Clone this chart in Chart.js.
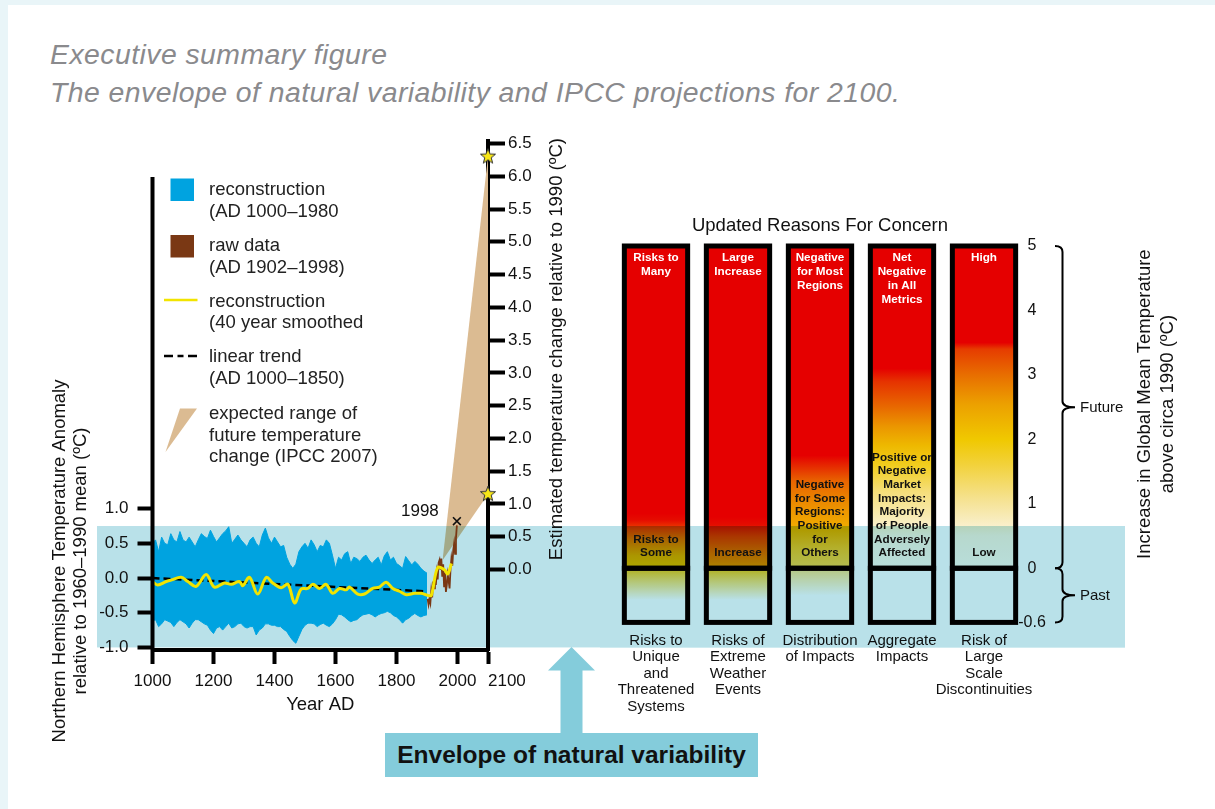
<!DOCTYPE html>
<html>
<head>
<meta charset="utf-8">
<title>The envelope of natural variability and IPCC projections for 2100</title>
<script src="https://cdn.jsdelivr.net/npm/chart.js@4.4.1/dist/chart.umd.min.js"></script>
<style>
  html, body { margin: 0; padding: 0; }
  body { width: 1215px; height: 809px; position: relative; overflow: hidden; background: #e9f5f8;
         font-family: "Liberation Sans", Arial, Helvetica, sans-serif; }
  #panel { position: absolute; left: 8px; top: 5px; right: 0; bottom: 0; background: #fff; }
  .heading { position: absolute; left: 50px; color: #8a8a8d; font-style: italic; font-size: 28.4px;
             line-height: 28px; white-space: nowrap; letter-spacing: 0.45px; }
  canvas { position: absolute; left: 0; top: 0; }
  #arrow { position: absolute; left: 0; top: 0; }
  #envelope { position: absolute; left: 385px; top: 733px; width: 373px; height: 44px; background: #84ccdb;
              color: #111; font-weight: bold; font-size: 24.5px; display: flex; align-items: center;
              justify-content: center; white-space: nowrap; }
</style>
</head>
<body>
<div id="panel"></div>
<div class="heading" style="top:39.5px">Executive summary figure</div>
<div class="heading" style="top:77.5px">The envelope of natural variability and IPCC projections for 2100.</div>
<canvas id="history" width="1215" height="809"></canvas>
<canvas id="concern" width="1215" height="809"></canvas>
<svg id="arrow" width="1215" height="809">
  <polygon points="571.5,647 595,670.5 582.5,670.5 582.5,733 560.5,733 560.5,670.5 548,670.5" fill="#84ccdb"/>
</svg>
<div id="envelope">Envelope of natural variability</div>

<script>
// ---------------- Northern Hemisphere temperature record ----------------
const RECON_YEARS = [1000,1010,1020,1030,1040,1050,1060,1070,1080,1090,1100,1110,1120,1130,1140,1150,1160,1170,1180,1190,
  1200,1210,1220,1230,1240,1250,1260,1270,1280,1290,1300,1310,1320,1330,1340,1350,1360,1370,1380,1390,
  1400,1410,1420,1430,1440,1450,1460,1470,1480,1490,1500,1510,1520,1530,1540,1550,1560,1570,1580,1590,
  1600,1610,1620,1630,1640,1650,1660,1670,1680,1690,1700,1710,1720,1730,1740,1750,1760,1770,1780,1790,
  1800,1810,1820,1830,1840,1850,1860,1870,1880,1890,1900];
// upper and lower extent of the annual reconstruction within each decade
const RECON_HIGH = [0.50,0.55,0.38,0.59,0.50,0.48,0.64,0.55,0.52,0.67,0.55,0.52,0.59,0.52,0.45,0.55,0.64,0.60,0.57,0.69,
  0.60,0.52,0.58,0.64,0.68,0.74,0.50,0.56,0.62,0.55,0.50,0.45,0.55,0.59,0.50,0.45,0.62,0.72,0.58,0.50,
  0.59,0.52,0.45,0.47,0.30,0.20,0.14,0.20,0.38,0.45,0.50,0.43,0.55,0.48,0.38,0.47,0.45,0.55,0.50,0.33,
  0.14,0.30,0.26,0.35,0.38,0.21,0.30,0.28,0.24,0.30,0.33,0.26,0.21,0.26,0.30,0.19,0.32,0.38,0.26,0.30,
  0.21,0.18,0.14,0.31,0.25,0.19,0.24,0.20,0.14,0.10,0.07];
const RECON_LOW = [-0.62,-0.60,-0.70,-0.66,-0.60,-0.62,-0.64,-0.70,-0.64,-0.60,-0.63,-0.66,-0.72,-0.65,-0.60,-0.60,-0.63,-0.66,-0.68,-0.75,
  -0.80,-0.72,-0.70,-0.75,-0.70,-0.65,-0.72,-0.70,-0.66,-0.65,-0.70,-0.72,-0.70,-0.70,-0.82,-0.75,-0.72,-0.66,-0.66,-0.68,
  -0.68,-0.70,-0.70,-0.74,-0.77,-0.84,-0.90,-0.94,-0.84,-0.74,-0.68,-0.65,-0.65,-0.66,-0.70,-0.67,-0.65,-0.68,-0.70,-0.66,
  -0.60,-0.52,-0.53,-0.56,-0.60,-0.63,-0.61,-0.60,-0.56,-0.53,-0.52,-0.51,-0.53,-0.56,-0.53,-0.51,-0.50,-0.48,-0.50,-0.54,
  -0.56,-0.60,-0.65,-0.60,-0.58,-0.54,-0.51,-0.54,-0.56,-0.54,-0.53];

const SMOOTH_YEARS = [1000,1017,1045,1061,1094,1116,1143,1176,1203,1236,1258,1285,1296,1318,1345,1373,1394,1422,1444,1466,
  1487,1509,1526,1548,1569,1591,1613,1635,1646,1673,1695,1722,1744,1766,1788,1810,1832,1859,1881,1903,
  1914,1935,1957,1968,1980];
const SMOOTH_VALUES = [-0.05,-0.10,-0.05,-0.03,0.01,-0.05,-0.12,0.05,-0.13,-0.07,-0.09,-0.05,-0.11,0.01,-0.23,0.01,-0.07,-0.14,-0.09,-0.36,
  -0.16,-0.15,-0.09,-0.15,-0.09,-0.22,-0.15,-0.17,-0.13,-0.23,-0.23,-0.15,-0.13,-0.06,-0.15,-0.19,-0.24,-0.22,-0.22,-0.25,
  -0.25,0.15,0.12,0.06,0.21];

const RAW_YEARS = [1902,1905,1908,1911,1914,1917,1920,1923,1926,1929,1932,1935,1938,1941,1944,1947,1950,1953,1956,1959,
  1962,1965,1968,1971,1974,1977,1980,1983,1986,1989,1992,1995,1998];
const RAW_VALUES = [-0.30,-0.38,-0.30,-0.36,-0.18,-0.28,-0.05,-0.15,0.02,-0.10,0.08,-0.02,0.22,0.26,0.12,0.28,0.02,0.20,-0.12,0.08,
  -0.20,-0.10,0.05,-0.04,-0.15,0.12,0.28,0.18,0.40,0.50,0.35,0.58,0.76];

const TREND_YEARS = [1000, 1890];
const TREND_VALUES = [0.0, -0.19];

const PEAK_YEAR = 1998;
const PEAK_VALUE = 0.82;

// IPCC 2007 projected range (right-hand axis, relative to 1990)
const FAN_ORIGIN_YEAR = 1951;
const FAN_ORIGIN_VALUE = 0.14;
const PROJECTION_YEAR = 2100;
const PROJECTION_LOW = 1.15;
const PROJECTION_HIGH = 6.3;

// envelope of natural variability (NH anomaly, °C)
const ENVELOPE = [-1.0, 0.75];

const ANOMALY_TICKS = [-1.0, -0.5, 0.0, 0.5, 1.0];
const CHANGE_TICKS = [0.0,0.5,1.0,1.5,2.0,2.5,3.0,3.5,4.0,4.5,5.0,5.5,6.0,6.5];
const YEAR_TICKS = [1000, 1200, 1400, 1600, 1800, 2000, 2100];

// ---------------- Reasons for concern ----------------
const CONCERNS = [
  ["Risks to", "Unique", "and", "Threatened", "Systems"],
  ["Risks of", "Extreme", "Weather", "Events"],
  ["Distribution", "of Impacts"],
  ["Aggregate", "Impacts"],
  ["Risk of", "Large", "Scale", "Discontinuities"]
];
const FUTURE_SPAN = [[0, 5], [0, 5], [0, 5], [0, 5], [0, 5]];
const PAST_SPAN = [[-0.6, 0], [-0.6, 0], [-0.6, 0], [-0.6, 0], [-0.6, 0]];
const HIGH_RISK_TEXT = [
  ["Risks to", "Many"],
  ["Large", "Increase"],
  ["Negative", "for Most", "Regions"],
  ["Net", "Negative", "in All", "Metrics"],
  ["High"]
];
const LOW_RISK_TEXT = [
  ["Risks to", "Some"],
  ["Increase"],
  ["Negative", "for Some", "Regions:", "Positive", "for", "Others"],
  ["Positive or", "Negative", "Market", "Impacts:", "Majority", "of People", "Adversely", "Affected"],
  ["Low"]
];
const CONCERN_TICKS = [-0.6, 0, 1, 2, 3, 4, 5];

// ---------------- styling ----------------
const FONT = '"Liberation Sans", Arial, Helvetica, sans-serif';
const INK = '#111';
const BAND = '#b9e1e9';
const BLUE = '#00a3e0';
const BROWN = '#7a3814';
const YELLOW = '#f2e400';
const TAN = 'rgb(219,187,146)';
const TAN_IN_BAND = 'rgb(163,170,137)';
const BAND_X = [97, 1125];
const PAST_STRETCH = 1.4;   // the past segment of the concern axis is drawn taller

// colour ramps along each bar (°C, colour)
const RED = 'rgb(229,0,0)';
const FUTURE_RAMPS = [
  [[0, 'rgb(240,190,0)'], [0.2, 'rgb(236,170,0)'], [0.45, 'rgb(234,112,0)'], [0.62, 'rgb(236,60,0)'], [0.75, 'rgb(229,12,0)'], [0.85, RED], [5, RED]],
  [[0, 'rgb(240,150,0)'], [0.25, 'rgb(236,110,0)'], [0.5, 'rgb(234,60,0)'], [0.68, 'rgb(229,12,0)'], [0.8, RED], [5, RED]],
  [[0, 'rgb(250,215,90)'], [0.3, 'rgb(248,200,50)'], [0.6, 'rgb(241,175,0)'], [1.0, 'rgb(235,140,0)'], [1.35, 'rgb(232,100,0)'], [1.55, 'rgb(230,50,0)'], [1.75, RED], [5, RED]],
  [[0, 'rgb(255,252,240)'], [0.5, 'rgb(252,245,225)'], [0.8, 'rgb(248,235,180)'], [1.2, 'rgb(245,222,120)'], [1.6, 'rgb(241,205,30)'], [1.9, 'rgb(238,185,0)'], [2.2, 'rgb(235,150,0)'], [2.5, 'rgb(232,105,0)'], [2.9, 'rgb(230,50,0)'], [3.1, RED], [5, RED]],
  [[0, 'rgb(255,252,240)'], [0.5, 'rgb(252,245,225)'], [0.75, 'rgb(248,236,190)'], [1.1, 'rgb(245,225,140)'], [1.6, 'rgb(242,210,60)'], [2.0, 'rgb(240,200,0)'], [2.55, 'rgb(236,160,0)'], [3.0, 'rgb(232,110,0)'], [3.4, 'rgb(230,60,0)'], [3.5, RED], [5, RED]]
];
const PAST_RAMPS = [
  [[0, 'rgb(245,200,30)'], [-0.15, 'rgb(248,225,130)'], [-0.35, '#fff'], [-0.6, '#fff']],
  [[0, 'rgb(245,200,30)'], [-0.15, 'rgb(248,225,130)'], [-0.35, '#fff'], [-0.6, '#fff']],
  [[0, 'rgb(250,225,140)'], [-0.3, '#fff'], [-0.6, '#fff']],
  [[0, '#fff'], [-0.6, '#fff']],
  [[0, '#fff'], [-0.6, '#fff']]
];

Chart.defaults.font.family = FONT;
Chart.defaults.color = INK;

const bandPx = { top: 0, bottom: 0 };

function makeStar(r) {
  const c = document.createElement('canvas');
  c.width = c.height = 2 * r + 4;
  const g = c.getContext('2d');
  g.beginPath();
  for (let i = 0; i < 10; i++) {
    const a = -Math.PI / 2 + i * Math.PI / 5;
    const rad = i % 2 ? r * 0.42 : r;
    const px = r + 2 + rad * Math.cos(a), py = r + 2 + rad * Math.sin(a);
    i ? g.lineTo(px, py) : g.moveTo(px, py);
  }
  g.closePath();
  g.fillStyle = '#f7e617';
  g.fill();
  g.lineWidth = 1;
  g.strokeStyle = '#333';
  g.stroke();
  return c;
}

function drawText(ctx, str, x, y, o = {}) {
  ctx.save();
  ctx.font = (o.weight || 'normal') + ' ' + (o.size || 17) + 'px ' + FONT;
  ctx.fillStyle = o.color || INK;
  ctx.textAlign = o.align || 'left';
  ctx.textBaseline = 'middle';
  ctx.translate(x, y);
  if (o.rot) ctx.rotate(o.rot);
  ctx.fillText(str, 0, 0);
  ctx.restore();
}

const pts = (xs, ys) => xs.map((x, i) => ({ x, y: ys[i] }));

// ---------------- left chart: temperature history and projection fan ----------------
const historyDecor = {
  id: 'historyDecor',
  beforeDraw(chart) {
    const { ctx } = chart;
    const y = chart.scales.y;
    bandPx.top = y.getPixelForValue(ENVELOPE[1]);
    bandPx.bottom = y.getPixelForValue(ENVELOPE[0]);
    ctx.save();
    ctx.fillStyle = BAND;
    ctx.fillRect(BAND_X[0], bandPx.top, BAND_X[1] - BAND_X[0], bandPx.bottom - bandPx.top);
    ctx.restore();
  },
  afterDraw(chart) {
    const { ctx, chartArea: a } = chart;
    const x = chart.scales.x, y = chart.scales.y;

    // left axis spine (stops short of the top of the plot)
    ctx.save();
    ctx.strokeStyle = '#000';
    ctx.lineWidth = 4;
    ctx.beginPath();
    ctx.moveTo(a.left, a.bottom + 2);
    ctx.lineTo(a.left, y.getPixelForValue(5.78));
    ctx.stroke();
    ctx.restore();

    // year labels; the last one sits to the right of its tick
    YEAR_TICKS.forEach((v, i) => {
      const last = i === YEAR_TICKS.length - 1;
      drawText(ctx, String(v), x.getPixelForValue(v), a.bottom + 31, { size: 17, align: last ? 'left' : 'center' });
    });

    // 1998 marker label
    const mark = chart.getDatasetMeta(7).data[0];
    drawText(ctx, String(PEAK_YEAR), mark.x - 37, mark.y - 10, { size: 17, align: 'center' });

    // axis titles
    drawText(ctx, 'Estimated temperature change relative to 1990 (ºC)', 557, a.top - 3,
      { size: 18.5, align: 'right', rot: -Math.PI / 2 });
    drawText(ctx, 'Northern Hemisphere Temperature Anomaly', 60, 561, { size: 18.5, align: 'center', rot: -Math.PI / 2 });
    drawText(ctx, 'relative to 1960–1990 mean (ºC)', 81, 561, { size: 18.5, align: 'center', rot: -Math.PI / 2 });

    // legend
    const ds = chart.data.datasets;
    ctx.save();
    ctx.fillStyle = ds[2].backgroundColor;
    ctx.fillRect(170.5, 178.5, 23.5, 22.5);
    ctx.fillStyle = ds[4].borderColor;
    ctx.fillRect(170.5, 235, 23.5, 22.5);
    ctx.strokeStyle = ds[6].borderColor;
    ctx.lineWidth = 2.5;
    ctx.beginPath(); ctx.moveTo(164, 300); ctx.lineTo(197.5, 300); ctx.stroke();
    ctx.strokeStyle = '#000';
    ctx.setLineDash([9, 4.5, 6, 4.5]);
    ctx.beginPath(); ctx.moveTo(164, 356); ctx.lineTo(198, 356); ctx.stroke();
    ctx.setLineDash([]);
    ctx.fillStyle = TAN;
    ctx.beginPath(); ctx.moveTo(180, 408.5); ctx.lineTo(197, 408.5); ctx.lineTo(165.5, 452); ctx.closePath(); ctx.fill();
    ctx.restore();
    const legendLines = [
      ['reconstruction', 189.5], ['(AD 1000–1980', 211.5],
      ['raw data', 246], ['(AD 1902–1998)', 267.5],
      ['reconstruction', 301.5], ['(40 year smoothed', 323],
      ['linear trend', 356.5], ['(AD 1000–1850)', 378.5],
      ['expected range of', 414], ['future temperature', 435.5], ['change (IPCC 2007)', 457]
    ];
    legendLines.forEach(([t, ly]) => drawText(ctx, t, 209, ly, { size: 18.5, color: '#222' }));
  }
};

const fanFill = (c) => {
  const ch = c.chart;
  if (!ch.chartArea) return TAN;
  const f = Math.min(Math.max(ch.scales.y.getPixelForValue(ENVELOPE[1]) / ch.height, 0), 1);
  const g = ch.ctx.createLinearGradient(0, 0, 0, ch.height);
  g.addColorStop(0, TAN);
  g.addColorStop(f, TAN);
  g.addColorStop(f, TAN_IN_BAND);
  g.addColorStop(1, TAN_IN_BAND);
  return g;
};

const STAR = makeStar(8);

const historyChart = new Chart(document.getElementById('history'), {
  type: 'line',
  data: {
    datasets: [
      { label: 'projection high', yAxisID: 'y2', data: pts([FAN_ORIGIN_YEAR, PROJECTION_YEAR], [FAN_ORIGIN_VALUE, PROJECTION_HIGH]),
        fill: '+1', backgroundColor: fanFill, borderWidth: 0, pointRadius: 0, order: 10 },
      { label: 'projection low', yAxisID: 'y2', data: pts([FAN_ORIGIN_YEAR, PROJECTION_YEAR], [FAN_ORIGIN_VALUE, PROJECTION_LOW]),
        fill: false, borderWidth: 0, pointRadius: 0, order: 10 },
      { label: 'reconstruction high', data: pts(RECON_YEARS, RECON_HIGH), fill: '+1', backgroundColor: BLUE,
        borderColor: BLUE, borderWidth: 1, pointRadius: 0, order: 9 },
      { label: 'reconstruction low', data: pts(RECON_YEARS, RECON_LOW), fill: false,
        borderColor: BLUE, borderWidth: 1, pointRadius: 0, order: 9 },
      { label: 'raw data', data: pts(RAW_YEARS, RAW_VALUES), borderColor: BROWN, borderWidth: 1.8,
        pointRadius: 0, fill: false, order: 7 },
      { label: 'linear trend', data: pts(TREND_YEARS, TREND_VALUES), borderColor: '#000', borderWidth: 2.5,
        borderDash: [7, 4], pointRadius: 0, fill: false, order: 6 },
      { label: 'reconstruction (40 year smoothed)', data: pts(SMOOTH_YEARS, SMOOTH_VALUES), borderColor: YELLOW,
        borderWidth: 3, tension: 0.35, pointRadius: 0, fill: false, order: 5 },
      { label: '1998', data: pts([PEAK_YEAR], [PEAK_VALUE]), showLine: false, pointStyle: 'crossRot',
        pointRadius: 5.5, borderColor: INK, borderWidth: 1.6, clip: false, order: 2 },
      { label: 'IPCC 2100', yAxisID: 'y2', data: pts([PROJECTION_YEAR, PROJECTION_YEAR], [PROJECTION_LOW, PROJECTION_HIGH]),
        showLine: false, pointStyle: STAR, pointRadius: 8, clip: false, order: 1 }
    ]
  },
  options: {
    responsive: false,
    devicePixelRatio: 1,
    animation: false,
    events: [],
    layout: { padding: { left: 0, top: 141, right: 647, bottom: 89 } },
    plugins: { legend: { display: false }, tooltip: { enabled: false } },
    scales: {
      x: {
        type: 'linear', position: 'bottom', min: 1000, max: 2100,
        border: { display: true, color: '#000', width: 4 },
        grid: { drawOnChartArea: false, drawTicks: true, tickLength: 14, tickWidth: 4, tickColor: '#000' },
        ticks: { display: false },
        afterBuildTicks: s => { s.ticks = YEAR_TICKS.map(v => ({ value: v })); },
        afterFit: s => { s.height = 70; },
        title: { display: true, text: 'Year AD', font: { size: 18.5 }, color: INK, padding: { top: 0, bottom: 4 } }
      },
      y: {
        type: 'linear', position: 'left', min: -1.037, max: 6.30,
        border: { display: false },
        grid: { drawOnChartArea: false, tickLength: 15, tickWidth: 4, tickColor: '#000' },
        ticks: { font: { size: 17 }, color: INK, padding: 9, callback: v => Number(v).toFixed(1) },
        afterBuildTicks: s => { s.ticks = ANOMALY_TICKS.map(v => ({ value: v })); },
        afterFit: s => { s.width = 152.5; }
      },
      y2: {
        type: 'linear', position: 'right', min: -1.228, max: 6.538,
        border: { display: true, color: '#000', width: 4 },
        grid: { drawOnChartArea: false, tickLength: 17, tickWidth: 4, tickColor: '#000' },
        ticks: { font: { size: 17 }, color: INK, padding: 3, callback: v => Number(v).toFixed(1) },
        afterBuildTicks: s => { s.ticks = CHANGE_TICKS.map(v => ({ value: v })); },
        afterFit: s => { s.width = 80; }
      }
    }
  },
  plugins: [historyDecor]
});

// ---------------- right chart: reasons for concern ----------------
class StretchedLinearScale extends Chart.LinearScale {
  getPixelForValue(value) {
    return super.getPixelForValue(value < 0 ? value * PAST_STRETCH : value);
  }
}
StretchedLinearScale.id = 'stretchedLinear';
StretchedLinearScale.defaults = Chart.LinearScale.defaults;
Chart.register(StretchedLinearScale);

function rampFill(c) {
  const ch = c.chart;
  if (!ch.chartArea || c.dataIndex === undefined) return RED;
  const y = ch.scales.y;
  const future = c.datasetIndex === 0;
  const span = future ? FUTURE_SPAN[c.dataIndex] : PAST_SPAN[c.dataIndex];
  const from = future ? span[0] : span[1];
  const to = future ? span[1] : span[0];
  const ramp = (future ? FUTURE_RAMPS : PAST_RAMPS)[c.dataIndex];
  const g = ch.ctx.createLinearGradient(0, y.getPixelForValue(from), 0, y.getPixelForValue(to));
  ramp.forEach(([v, col]) => g.addColorStop(Math.min(Math.max((v - from) / (to - from), 0), 1), col));
  return g;
}

function brace(ctx, x0, xs, xt, y1, y2) {
  const ym = (y1 + y2) / 2, r = 6;
  ctx.beginPath();
  ctx.moveTo(x0, y1);
  ctx.quadraticCurveTo(xs, y1, xs, y1 + r);
  ctx.lineTo(xs, ym - r);
  ctx.quadraticCurveTo(xs, ym, xt, ym);
  ctx.quadraticCurveTo(xs, ym, xs, ym + r);
  ctx.lineTo(xs, y2 - r);
  ctx.quadraticCurveTo(xs, y2, x0, y2);
  ctx.stroke();
  return ym;
}

const concernDecor = {
  id: 'concernDecor',
  afterDatasetsDraw(chart) {
    const { ctx } = chart;
    // bar outlines
    ctx.save();
    ctx.strokeStyle = '#000';
    ctx.lineWidth = 5;
    [0, 1].forEach(d => chart.getDatasetMeta(d).data.forEach(el => {
      const { x, y, base, width } = el.getProps(['x', 'y', 'base', 'width'], true);
      ctx.strokeRect(x - width / 2, Math.min(y, base), width, Math.abs(base - y));
    }));
    ctx.restore();
    // envelope of natural variability laid over the bars
    ctx.save();
    ctx.globalCompositeOperation = 'multiply';
    ctx.fillStyle = BAND;
    ctx.fillRect(600, bandPx.top, BAND_X[1] - 600, bandPx.bottom - bandPx.top);
    ctx.restore();
  },
  afterDraw(chart) {
    const { ctx, chartArea: a } = chart;
    const y = chart.scales.y;
    const meta = chart.getDatasetMeta(0);
    const top = y.getPixelForValue(5), zero = y.getPixelForValue(0), bottom = y.getPixelForValue(-0.6);

    meta.data.forEach((el, i) => {
      HIGH_RISK_TEXT[i].forEach((t, k) =>
        drawText(ctx, t, el.x, top + 12 + 14 * k, { size: 11.7, weight: 'bold', color: '#fff', align: 'center' }));
      const lines = LOW_RISK_TEXT[i];
      lines.forEach((t, k) =>
        drawText(ctx, t, el.x, zero - 15 - 13.7 * (lines.length - 1 - k), { size: 11.7, weight: 'bold', color: INK, align: 'center' }));
    });

    // temperature ticks, centred in a narrow column beside the bars
    y.ticks.forEach(t => {
      const label = Math.abs(t.value + 0.6) < 1e-9 ? '-0.6' : String(t.value);
      drawText(ctx, label, a.right + 7, y.getPixelForValue(t.value), { size: 16, align: 'center' });
    });

    drawText(ctx, 'Updated Reasons For Concern', (a.left + a.right) / 2, 226, { size: 18.5, align: 'center' });

    ctx.save();
    ctx.strokeStyle = '#000';
    ctx.lineWidth = 2;
    const fm = brace(ctx, 1055, 1062.5, 1075, top, zero);
    const pm = brace(ctx, 1055, 1062.5, 1075, zero, bottom);
    ctx.restore();
    drawText(ctx, 'Future', 1080, fm + 1, { size: 15 });
    drawText(ctx, 'Past', 1080, pm + 1, { size: 15 });

    const mid = (top + zero) / 2 - 3;
    drawText(ctx, 'Increase in Global Mean Temperature', 1145, mid, { size: 18.5, align: 'center', rot: -Math.PI / 2 });
    drawText(ctx, 'above circa 1990 (ºC)', 1168, mid, { size: 18.5, align: 'center', rot: -Math.PI / 2 });
  }
};

new Chart(document.getElementById('concern'), {
  type: 'bar',
  data: {
    labels: CONCERNS,
    datasets: [
      { label: 'Future', data: FUTURE_SPAN, backgroundColor: rampFill, borderWidth: 0, grouped: false,
        barPercentage: 0.772, categoryPercentage: 1 },
      { label: 'Past', data: PAST_SPAN, backgroundColor: rampFill, borderWidth: 0, grouped: false,
        barPercentage: 0.772, categoryPercentage: 1 }
    ]
  },
  options: {
    responsive: false,
    devicePixelRatio: 1,
    animation: false,
    events: [],
    layout: { padding: { left: 615, top: 246, right: 150, bottom: 86.6 } },
    plugins: { legend: { display: false }, tooltip: { enabled: false } },
    scales: {
      x: {
        type: 'category',
        grid: { display: false },
        border: { display: false },
        ticks: { font: { size: 15, lineHeight: 1.1 }, color: INK, padding: 2, maxRotation: 0, autoSkip: false },
        afterFit: s => { s.height = 100; }
      },
      y: {
        type: 'stretchedLinear', position: 'right', min: -0.6 * PAST_STRETCH, max: 5,
        grid: { display: false },
        border: { display: false },
        ticks: { display: false },
        afterBuildTicks: s => { s.ticks = CONCERN_TICKS.map(v => ({ value: v })); },
        afterFit: s => { s.width = 40; }
      }
    }
  },
  plugins: [concernDecor]
});
</script>
</body>
</html>
